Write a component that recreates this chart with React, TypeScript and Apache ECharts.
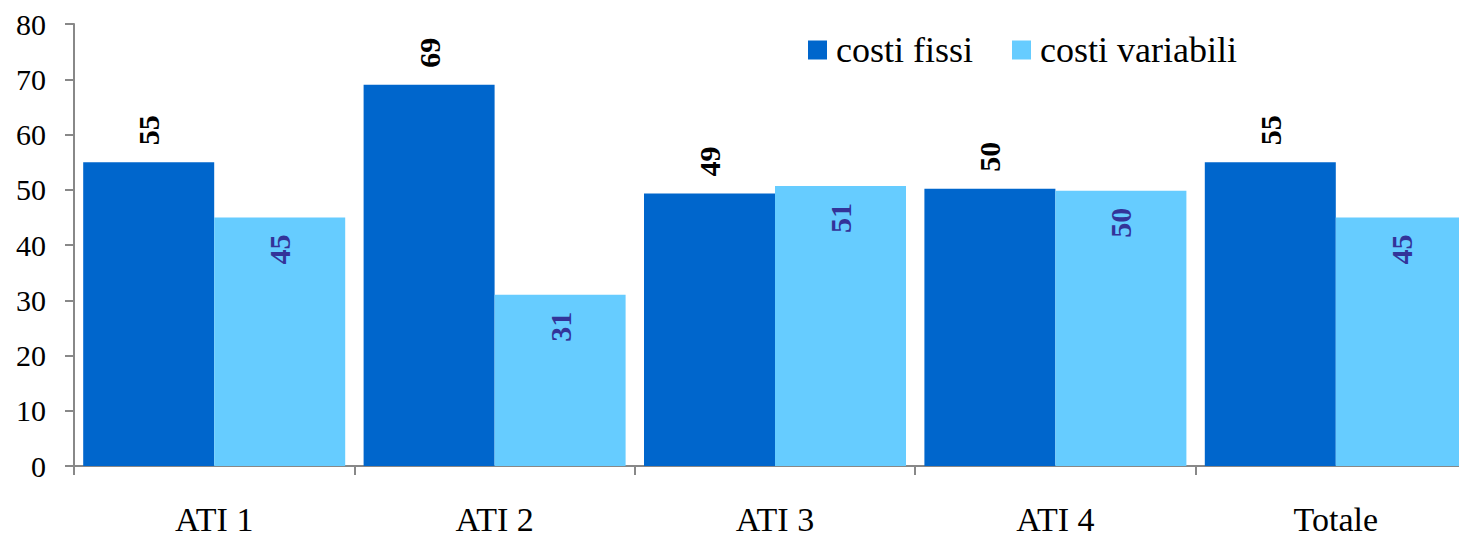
import React, { useEffect, useRef } from "react";
import * as echarts from "echarts";

const categories = ["ATI 1", "ATI 2", "ATI 3", "ATI 4", "Totale"];
const costiFissi = [55, 69, 49.3, 50.2, 55];
const costiVariabili = [45, 31, 50.7, 49.8, 45];
const yTicks = { min: 0, max: 80, interval: 10 };

const FONT = "'Liberation Serif', 'Times New Roman', serif";

export default function App() {
  const ref = useRef<HTMLDivElement>(null);
  useEffect(() => {
    if (!ref.current) return;
    const chart = echarts.init(ref.current, null, { renderer: "svg" });
    chart.setOption({
      animation: false,
      backgroundColor: "#ffffff",
      textStyle: { fontFamily: FONT },
      legend: {
        left: 803,
        top: 27,
        itemWidth: 19,
        itemHeight: 19,
        itemGap: 39,
        icon: "rect",
        textStyle: { fontFamily: FONT, fontSize: 36, color: "#000", padding: [0, 0, 0, 4] },
        data: ["costi fissi", "costi variabili"],
      },
      grid: { left: 74, top: 24, width: 1402, height: 442, outerBoundsMode: "none" },
      xAxis: {
        type: "category",
        data: categories,
        axisLine: { lineStyle: { color: "#888888", width: 2 } },
        axisTick: { show: true, length: 9, lineStyle: { color: "#888888", width: 2 } },
        axisLabel: {
          fontFamily: FONT,
          fontSize: 34,
          lineHeight: 30,
          color: "#000",
          margin: 38,
        },
      },
      yAxis: {
        type: "value",
        min: yTicks.min,
        max: yTicks.max,
        interval: yTicks.interval,
        splitLine: { show: false },
        axisLine: { show: true, lineStyle: { color: "#888888", width: 2 } },
        axisTick: { show: true, length: 9, lineStyle: { color: "#888888", width: 2 } },
        axisLabel: { fontFamily: FONT, fontSize: 30, color: "#000", margin: 28 },
      },
      series: [
        {
          name: "costi fissi",
          type: "bar",
          data: costiFissi,
          barWidth: 131,
          barGap: "0%",
          itemStyle: { color: "#0066CC" },
          label: {
            show: true,
            position: "top",
            distance: 17,
            rotate: 90,
            align: "left",
            verticalAlign: "middle",
            fontFamily: FONT,
            fontSize: 30,
            fontWeight: "bold",
            color: "#000",
            formatter: (p: any) => Math.round(p.value).toString(),
          },
        },
        {
          name: "costi variabili",
          type: "bar",
          data: costiVariabili,
          barWidth: 131,
          barGap: "0%",
          itemStyle: { color: "#66CCFF" },
          label: {
            show: true,
            position: "insideTop",
            distance: 17,
            rotate: 90,
            align: "right",
            verticalAlign: "middle",
            fontFamily: FONT,
            fontSize: 30,
            fontWeight: "bold",
            color: "#333399",
            formatter: (p: any) => Math.round(p.value).toString(),
          },
        },
      ],
    });
    return () => chart.dispose();
  }, []);
  return (
    <div
      ref={ref}
      style={{ position: "fixed", left: 0, top: 0, width: 1459, height: 538 }}
    />
  );
}
